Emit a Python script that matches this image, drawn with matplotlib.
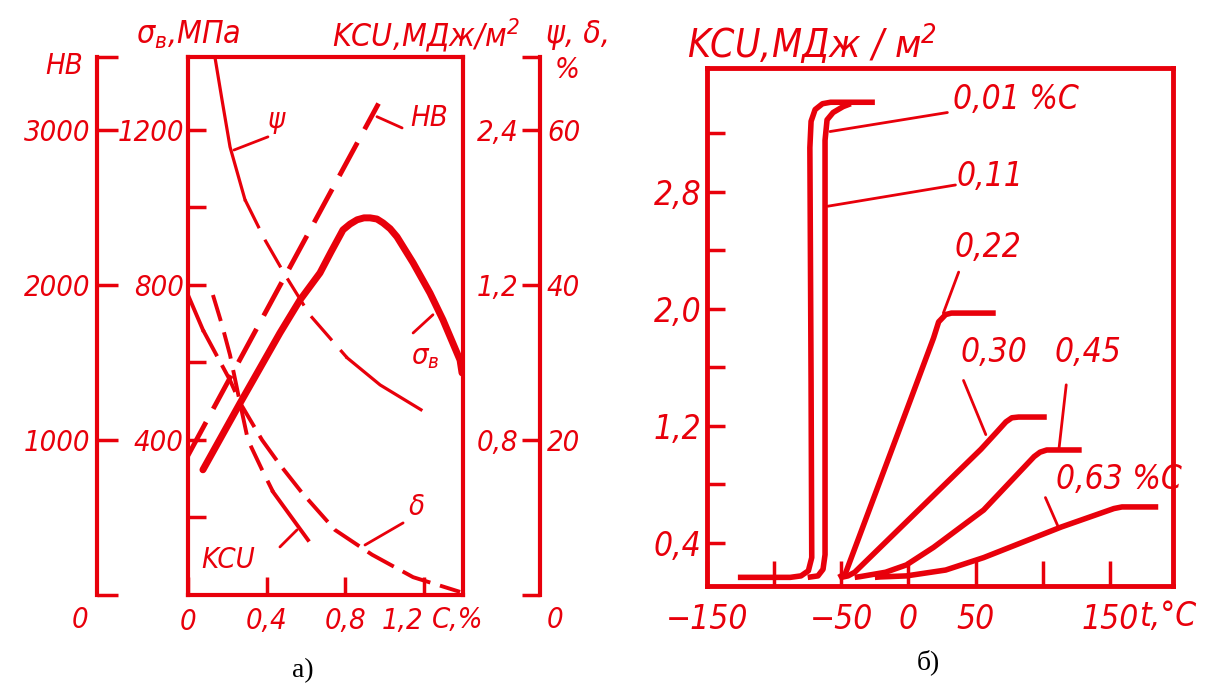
import matplotlib
matplotlib.use("Agg")
import matplotlib.pyplot as plt

RED = '#e8000b'
plt.rcParams['font.family'] = ['DejaVu Sans']
plt.rcParams['font.style'] = 'italic'
plt.rcParams['font.stretch'] = 'condensed'

# ---- panel a): properties vs carbon content, %C ----
c_sigma = [0.076, 0.265, 0.468, 0.570, 0.672, 0.728, 0.789, 0.825, 0.861, 0.896,
           0.927, 0.962, 0.993, 1.029, 1.064, 1.146, 1.232, 1.298, 1.385, 1.395]
sigma_b = [323, 495, 676, 761, 831, 885, 942, 957, 968, 973,
           973, 970, 960, 945, 924, 857, 779, 710, 606, 573]

c_hb = [0.0, 0.97]
hb_vals = [900, 3170]

c_psi = [0.137, 0.173, 0.214, 0.290, 0.392, 0.494, 0.621, 0.810, 0.978, 1.186]
psi = [69.4, 63.9, 57.8, 51.0, 45.8, 41.3, 36.1, 30.6, 27.1, 23.9]

c_delta = [0.0, 0.076, 0.214, 0.265, 0.377, 0.468, 0.580, 0.748, 0.937, 1.146, 1.385]
delta = [38.7, 34.2, 27.7, 24.8, 20.0, 16.8, 13.2, 8.4, 5.2, 2.3, 0.4]

c_kcu = [0.127, 0.173, 0.214, 0.265, 0.305, 0.377, 0.433, 0.519, 0.611]
kcu_a = [0.774, 0.697, 0.619, 0.495, 0.400, 0.323, 0.266, 0.206, 0.142]

# ---- panel б): KCU vs test temperature for steels with different %C ----
t_001 = [-127, -88, -80, -74.5, -72, -72.5, -73.4, -72.5, -69.5, -64, -58, -25]
k_001 = [0.165, 0.165, 0.175, 0.21, 0.30, 1.5, 3.10, 3.28, 3.36, 3.40, 3.41, 3.41]
t_011 = [-75, -67.4, -63.6, -62.1, -62.1, -60.6, -56.1, -48.7, -43]
k_011 = [0.165, 0.175, 0.22, 0.32, 3.15, 3.29, 3.34, 3.38, 3.40]
t_022 = [-52, -47, 1.5, 18.7, 22.5, 27.7, 32, 65]
k_022 = [0.165, 0.19, 1.377, 1.80, 1.91, 1.96, 1.97, 1.97]
t_030 = [-50, -45, -40, 54, 66, 72.6, 77, 82, 103]
k_030 = [0.165, 0.175, 0.20, 1.04, 1.16, 1.227, 1.255, 1.26, 1.26]
t_045 = [-40, -36, -17, -1.5, 18.7, 56, 93.6, 98, 103, 129]
k_045 = [0.165, 0.17, 0.20, 0.25, 0.37, 0.625, 0.99, 1.02, 1.035, 1.035]
t_063 = [-25, -21, -1.5, 27.7, 56, 113.8, 153, 159, 186]
k_063 = [0.165, 0.168, 0.175, 0.215, 0.30, 0.509, 0.635, 0.646, 0.646]

W, H = 1209, 693
fig = plt.figure(figsize=(W / 100, H / 100), dpi=100)


def box(x0, y0, x1, y1):
    return [x0 / W, 1 - y1 / H, (x1 - x0) / W, (y1 - y0) / H]


def ftext(x, y, s, size, **kw):
    kw.setdefault('color', RED)
    fig.text(x / W, 1 - y / H, s, fontsize=size, ha=kw.pop('ha', 'center'),
             va=kw.pop('va', 'center'), **kw)


def leader(ax, p0, p1, lw=2):
    ax.annotate('', xy=p0, xytext=p1,
                arrowprops=dict(arrowstyle='-', color=RED, lw=lw,
                                shrinkA=0, shrinkB=0))


# ================= panel a =================
ax1 = fig.add_axes(box(188, 57, 463, 595))
ax1.set_xlim(0, 1.4)
ax1.set_ylim(0, 1388)
for s in ax1.spines.values():
    s.set_color(RED)
    s.set_linewidth(3)
ax1.set_xticks([0, 0.4, 0.8, 1.2])
xl = ax1.set_xticklabels(['0', '0,4', '0,8', '1,2'])
xl[3].set_ha('right')
ax1.set_yticks([400, 800, 1200])
ax1.set_yticks([200, 600, 1000], minor=True)
ax1.tick_params(axis='both', which='both', direction='in', colors=RED,
                length=13, width=2.5, labelsize=21)
ax1.tick_params(axis='x', pad=9)
ax1.tick_params(axis='y', pad=3)

hb = ax1.twinx()
hb.set_ylim(0, 3470)
for s in ['top', 'bottom', 'right']:
    hb.spines[s].set_visible(False)
hb.spines['left'].set_visible(True)
hb.spines['left'].set_position(('axes', (97 - 188) / 275))
hb.spines['left'].set_color(RED)
hb.spines['left'].set_linewidth(3)
hb.yaxis.tick_left()
hb.set_yticks([0, 1000, 2000, 3000, 3470])
hb.set_yticklabels(['', '1000', '2000', '3000', ''])
hb.tick_params(axis='y', direction='in', colors=RED, length=15, width=2.5,
               labelsize=21, pad=5)

kc = ax1.twinx()
kc.set_ylim(0, 1.388)
for s in kc.spines.values():
    s.set_visible(False)
kc.set_yticks([0.4, 0.8, 1.2])
kc.set_yticklabels(['0,8', '1,2', '2,4'])
kc.set_yticks([0.8], minor=True)
kc.tick_params(axis='y', which='major', length=0, colors=RED, labelsize=21, pad=10)
kc.tick_params(axis='y', which='minor', direction='in', length=10, width=2.5, colors=RED)

pd_ax = ax1.twinx()
pd_ax.set_ylim(0, 69.4)
for s in ['top', 'bottom', 'left']:
    pd_ax.spines[s].set_visible(False)
pd_ax.spines['right'].set_position(('axes', (540 - 188) / 275))
pd_ax.spines['right'].set_color(RED)
pd_ax.spines['right'].set_linewidth(3)
pd_ax.set_yticks([0, 20, 40, 60, 69.4])
pd_ax.set_yticklabels(['', '20', '40', '60', ''])
pd_ax.tick_params(axis='y', direction='in', colors=RED, length=13, width=2.5,
                  labelsize=21, pad=5)

# sigma_B: thick solid
ax1.plot(c_sigma, sigma_b, color=RED, lw=5, solid_capstyle='round', solid_joinstyle='round')
# HB: dashed
hb.plot(c_hb, hb_vals, color=RED, lw=3.5, dashes=(7.8, 3.1))
# psi: solid - dashed - solid
pd_ax.plot(c_psi[:4], psi[:4], color=RED, lw=2.3)
pd_ax.plot(c_psi[3:8], psi[3:8], color=RED, lw=2.3, dashes=(10, 4))
pd_ax.plot(c_psi[7:], psi[7:], color=RED, lw=2.3)
# delta: short solid start, then long dashes
pd_ax.plot(c_delta[:2], delta[:2], color=RED, lw=2.8)
pd_ax.plot(c_delta[1:], delta[1:], color=RED, lw=2.8, dashes=(7.7, 2.6))
# KCU: dashed then solid
kc.plot(c_kcu[:7], kcu_a[:7], color=RED, lw=2.8, dashes=(7, 3))
kc.plot(c_kcu[6:], kcu_a[6:], color=RED, lw=2.8)

# labels and leaders inside panel a
leader(ax1, (0.234, 1148), (0.407, 1182))
ax1.text(0.448, 1226, 'ψ', color=RED, fontsize=21, ha='center', va='center')
leader(ax1, (0.962, 1234), (1.09, 1205))
ax1.text(1.227, 1231, 'HB', color=RED, fontsize=21, ha='center', va='center')
leader(ax1, (1.247, 723), (1.146, 676))
ax1.text(1.207, 614, 'σ$_в$', color=RED, fontsize=21, ha='center', va='center')
leader(ax1, (0.555, 168), (0.468, 124))
ax1.text(0.204, 90, 'KCU', color=RED, fontsize=21, ha='center', va='center')
leader(ax1, (0.901, 129), (1.095, 186))
ax1.text(1.166, 227, 'δ', color=RED, fontsize=21, ha='center', va='center')

# axis titles and zero labels around panel a
ftext(64, 66, 'HB', 21)
ftext(188, 35, 'σ$_в$,МПа', 23)
ftext(426, 35, 'KCU,МДж/м$^2$', 23)
ftext(578, 35, 'ψ, δ,', 23)
ftext(567, 70, '%', 21)
ftext(80, 620, '0', 21)
ftext(555, 620, '0', 21)
ftext(432, 620, 'C,%', 21, ha='left')

# ================= panel b =================
ax2 = fig.add_axes(box(707, 68, 1173, 586))
ax2.set_xlim(-150, 197)
ax2.set_ylim(0.106, 3.644)
for s in ax2.spines.values():
    s.set_color(RED)
    s.set_linewidth(3.5)
ax2.set_xticks([-150, -100, -50, 0, 50, 100, 150])
ax2.set_xticklabels(['−150', '', '−50', '0', '50', '', '150'])
yt = [0.4, 0.8, 1.2, 1.6, 2.0, 2.4, 2.8, 3.2]
ax2.set_yticks(yt)
ax2.set_yticklabels(['0,4', '', '1,2', '', '2,0', '', '2,8', ''])
ax2.tick_params(axis='both', direction='in', colors=RED, width=2.5, labelsize=24)
ax2.tick_params(axis='x', length=18, pad=12)
ax2.tick_params(axis='y', length=13, pad=4)

for tt, kk in [(t_001, k_001), (t_011, k_011), (t_022, k_022),
               (t_030, k_030), (t_045, k_045), (t_063, k_063)]:
    ax2.plot(tt, kk, color=RED, lw=4, solid_capstyle='butt', solid_joinstyle='round')

leader(ax2, (-58.4, 3.21), (29, 3.34))
ax2.text(33, 3.426, '0,01 %C', color=RED, fontsize=24, ha='left', va='center')
leader(ax2, (-60, 2.70), (35, 2.845))
ax2.text(36, 2.90, '0,11', color=RED, fontsize=24, ha='left', va='center')
leader(ax2, (26, 1.97), (37.4, 2.25))
ax2.text(34, 2.415, '0,22', color=RED, fontsize=24, ha='left', va='center')
leader(ax2, (57.6, 1.14), (41, 1.51))
ax2.text(39, 1.70, '0,30', color=RED, fontsize=24, ha='left', va='center')
leader(ax2, (112, 1.035), (117.5, 1.48))
ax2.text(108.5, 1.70, '0,45', color=RED, fontsize=24, ha='left', va='center')
leader(ax2, (112, 0.50), (102, 0.71))
ax2.text(110, 0.83, '0,63 %C', color=RED, fontsize=24, ha='left', va='center')

ftext(812, 43, 'KCU,МДж / м$^2$', 28)
ftext(1168, 617, 't,°C', 24)

# panel captions
ftext(303, 671, 'а)', 20, color='black', family='Liberation Serif', style='normal',
      stretch='normal')
ftext(928, 662, 'б)', 20, color='black', family='Liberation Serif', style='normal',
      stretch='normal')

fig.savefig('out.png', dpi=100)
